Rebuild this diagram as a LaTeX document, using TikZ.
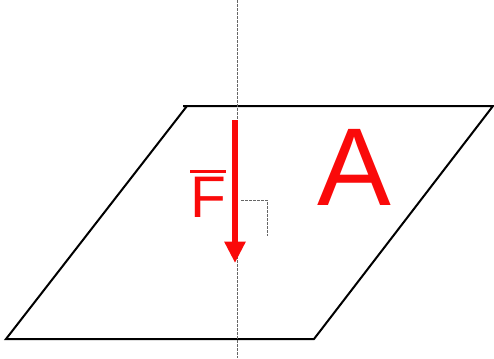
\documentclass[tikz,border=0pt]{standalone}
\usepackage{fontspec}
\setmainfont{Liberation Sans}
\usetikzlibrary{arrows.meta,positioning,calc}
\definecolor{forcecolor}{RGB}{250,10,10}
\tikzset{
  planeln/.style={line width=1.5pt, line join=miter, black},
  normalln/.style={dash pattern=on 2pt off 1pt, line width=0.6pt, gray!80!black},
  forceln/.style={-{Triangle[length=16pt,width=15pt]}, line width=4.5pt, forcecolor},
  bigletter/.style={forcecolor, inner sep=0pt},
}
\newcommand{\barred}[1]{\vbox{\hrule height 1.8pt \kern 3.2pt \hbox{#1}}}
\begin{document}
\begin{tikzpicture}[x=0.75pt, y=-0.75pt]
    \useasboundingbox (0,0) rectangle (494,358);
    % plane corners
    \coordinate (tl) at (187,106);
    \coordinate (tr) at (493,106);
    \coordinate (br) at (314,339);
    \coordinate (bl) at (6,339);
    \draw[planeln] (183,106) -- (tr) -- (br) -- (bl) -- (tl);
    % normal line
    \coordinate (ntop) at (237,0);
    \coordinate (nbot) at (237,358);
    \draw[normalln] (ntop) -- (nbot);
    % right angle mark
    \coordinate (ra1) at (241,200);
    \coordinate (ra2) at (267,200);
    \coordinate (ra3) at (267,236);
    \draw[normalln] (ra1) -- (ra2) -- (ra3);
    % force
    \coordinate (fstart) at (235,120);
    \coordinate (fend) at (235,263);
    \draw[forceln] (fstart) -- (fend);
    \node[bigletter, font=\fontsize{44}{50}\selectfont] (flabel) at (208,194)
      {\barred{F}};
    \node[bigletter, font=\fontsize{83}{95}\selectfont] (area) at (354,167.5) {A};
\end{tikzpicture}
\end{document}
